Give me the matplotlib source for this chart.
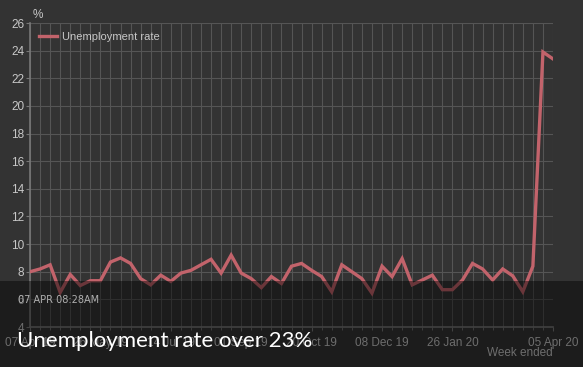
import matplotlib
matplotlib.use("Agg")
import matplotlib.pyplot as plt
from matplotlib.patches import Rectangle
import pandas as pd

# weekly unemployment rate, week ended 07 Apr 2019 .. 05 Apr 2020
weeks = pd.date_range("2019-04-07", "2020-04-05", freq="7D")
rate = [8.0, 8.2, 8.5, 6.5, 7.8, 7.0, 7.35, 7.35, 8.7, 9.0,
        8.6, 7.5, 7.05, 7.75, 7.3, 7.9, 8.1, 8.5, 8.9, 7.9,
        9.2, 7.9, 7.5, 6.85, 7.65, 7.15, 8.4, 8.6, 8.1, 7.65,
        6.55, 8.5, 8.0, 7.5, 6.45, 8.4, 7.65, 8.95, 7.05, 7.4,
        7.75, 6.7, 6.7, 7.4, 8.6, 8.2, 7.4, 8.2, 7.7, 6.55,
        8.4, 23.9, 23.4]
major_idx = [0, 7, 14, 21, 28, 35, 42, 52]
yticks = list(range(4, 27, 2))

BG = "#333333"
GRID = "#555555"
TXT = "#c8c8c8"
LINE = "#c2636b"

fig = plt.figure(figsize=(5.83, 3.67), dpi=100, facecolor=BG)
ax = fig.add_axes([30 / 583, 1 - 327 / 367, 523 / 583, 304 / 367])
ax.set_facecolor(BG)

x = list(range(len(rate)))
ax.plot(x, rate, color=LINE, lw=2.4, solid_joinstyle="miter", label="Unemployment rate",
        zorder=3)

ax.set_xlim(0, len(rate) - 1)
ax.set_ylim(4, 26)
ax.set_yticks(yticks)
ax.set_xticks(major_idx)
ax.set_xticklabels([weeks[i].strftime("%d %b %y") for i in major_idx])
ax.set_xticks(x, minor=True)
ax.grid(True, which="both", axis="x", color=GRID, lw=0.8)
ax.grid(True, which="major", axis="y", color=GRID, lw=0.8)

for s in ["top", "right"]:
    ax.spines[s].set_visible(False)
for s in ["left", "bottom"]:
    ax.spines[s].set_color("#777777")
    ax.spines[s].set_linewidth(1.2)

ax.tick_params(axis="both", colors="#777777", labelcolor=TXT, labelsize=8.5,
               length=3, width=0.8)
ax.tick_params(axis="x", which="minor", length=2, colors="#777777")
ax.tick_params(axis="y", pad=1)
ax.tick_params(axis="x", pad=4)
for lab in ax.get_xticklabels() + ax.get_yticklabels():
    lab.set_family("Liberation Sans")

fig.text(33 / 583, 1 - 15 / 367, "%", color=TXT, fontsize=8.5, family="Liberation Sans",
         va="center", ha="left")
fig.text(553 / 583, 1 - 353 / 367, "Week ended", color=TXT, fontsize=8.5,
         family="Liberation Sans", va="center", ha="right")

leg = ax.legend(loc="upper left", frameon=False, handlelength=1.6,
                borderaxespad=0.4, handletextpad=0.5,
                prop={"family": "Liberation Sans", "size": 8})
for t in leg.get_texts():
    t.set_color(TXT)

# dark caption overlay
fig.patches.append(Rectangle((0, 0), 1, 1 - 281 / 367, transform=fig.transFigure,
                             facecolor="black", alpha=0.45, zorder=10))
fig.text(18 / 583, 1 - 300 / 367, "07 APR 08:28AM", color="#b0b0b0", fontsize=7,
         family="DejaVu Sans", va="center", ha="left", zorder=11)
fig.text(17 / 583, 1 - 341 / 367, "Unemployment rate over 23%", color="white",
         fontsize=16, family="Lato", va="center", ha="left", zorder=11)

fig.savefig("out.png", dpi=100, facecolor=BG)
